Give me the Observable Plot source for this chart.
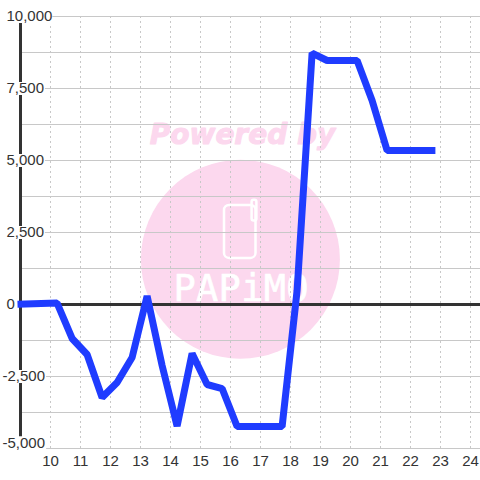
<!DOCTYPE html>
<html>
<head>
<meta charset="utf-8">
<script src="https://cdn.jsdelivr.net/npm/d3@7"></script>
<script src="https://cdn.jsdelivr.net/npm/@observablehq/plot@0.6"></script>
<style>
html,body{margin:0;padding:0;background:#fff;overflow:hidden}
svg{display:block}
</style>
</head>
<body>
<div id="chart"></div>
<script>
const hours = [8.9, 10.22, 10.72, 11.22, 11.72, 12.22, 12.72, 13.22, 13.72, 14.22, 14.72, 15.22, 15.72, 16.22, 17.72, 18.22, 18.72, 19.22, 20.22, 20.72, 21.22, 22.83];
const values = [10, 50, -1180, -1736, -3230, -2708, -1840, 295, -2118, -4220, -1700, -2778, -2917, -4236, -4236, 486, 8730, 8472, 8472, 7083, 5347, 5347];
const xTicks = [10,11,12,13,14,15,16,17,18,19,20,21,22,23,24];
const yGrid = [-3750,-2500,-1250,0,1250,2500,3750,5000,6250,7500,8750,10000];
const yLabels = [-5000,-2500,0,2500,5000,7500,10000];
const labelEnds = [9.87,9.87,8.9,9.83,9.83,9.83,10.08];
const series = hours.map((h,i)=>({h, v:values[i]}));
const pink = "#fcd8ee";
const logoLetters = ["P","A","P","i","M","O"];
const logoX = [14.47,15.22,15.97,16.73,17.48,18.23];

const fmt = d3.format(",");
const labelText = d => fmt(d).replace("−","-");
const labelY = d => d === -5000 ? -4800 : d;
const chart = Plot.plot({
  width: 480, height: 480,
  margin: 0,
  style: {background:"#fff", fontFamily:"'Liberation Sans', Arial, sans-serif"},
  x: {type:"linear", domain:[9,24.3333], range:[20,480], axis:null},
  y: {type:"linear", domain:[-5000,10000], range:[448,16], axis:null},
  marks: [
    // watermark
    Plot.dot([{x:16.33,y:1570}], {x:"x",y:"y",r:99.5,fill:pink,stroke:"none"}),
    Plot.text(["Powered by"], {x:[16.4],y:[5900],text:d=>d,fill:pink,stroke:pink,strokeWidth:1,fontSize:28,fontWeight:"bold",fontStyle:"italic",fontFamily:"'DejaVu Sans'",textAnchor:"middle"}),
    Plot.rect([{a:15.8,b:16.85,c:1600,d:3437}], {x1:"a",x2:"b",y1:"c",y2:"d",rx:5,fill:"none",stroke:"#fff",strokeWidth:2.5}),
    Plot.rect([{a:16.72,b:16.88,c:2900,d:3620}], {x1:"a",x2:"b",y1:"c",y2:"d",rx:2,fill:"none",stroke:"#fff",strokeWidth:2.5}),
    Plot.text(logoLetters, {x:logoX,y:logoX.map(()=>520),text:d=>d,fill:"#fff",stroke:"#fff",strokeWidth:0.6,fontSize:37,fontFamily:"'DejaVu Sans Mono'",textAnchor:"middle"}),
    // grid
    Plot.ruleX(xTicks, {x:d=>d,y1:-5000,y2:10000,stroke:"#c8c8c8",strokeWidth:1,strokeDasharray:"2,3"}),
    Plot.ruleY(yGrid, {y:d=>d,x1:9,x2:24.3333,stroke:"#c8c8c8",strokeWidth:1}),
    Plot.ruleY([-5000], {y:d=>d,x1:9.87,x2:24.3333,stroke:"#c8c8c8",strokeWidth:1}),
    // axis lines
    Plot.ruleX([9], {x:d=>d,y1:-4950,y2:10000,stroke:"#333",strokeWidth:3}),
    Plot.ruleY([0], {y:d=>d,x1:9,x2:24.3333,stroke:"#333",strokeWidth:3}),
    // y label backgrounds
    Plot.ruleY(yLabels, {y:labelY,x1:8.4,x2:(d,i)=>labelEnds[i],stroke:"#fff",strokeWidth:13}),
    // y labels
    Plot.text(yLabels, {x:()=>9,y:labelY,text:labelText,textAnchor:"start",fill:"#333",fontSize:15,lineAnchor:"middle",filter:d=>d>=0,dx:-14}),
    Plot.text(yLabels, {x:()=>9,y:labelY,text:labelText,textAnchor:"start",fill:"#333",fontSize:15,lineAnchor:"middle",filter:d=>d<0,dx:-18}),
    // x labels
    Plot.text(xTicks, {x:d=>d,y:()=>-5000,text:d=>String(d),dy:13,lineAnchor:"middle",fill:"#333",fontSize:15}),
    // series
    Plot.line(series, {x:"h",y:"v",stroke:"#1f3cff",strokeWidth:7,strokeLinejoin:"miter",strokeLinecap:"butt",curve:"linear",clip:false})
  ]
});
document.getElementById("chart").appendChild(chart);
</script>
</body>
</html>
